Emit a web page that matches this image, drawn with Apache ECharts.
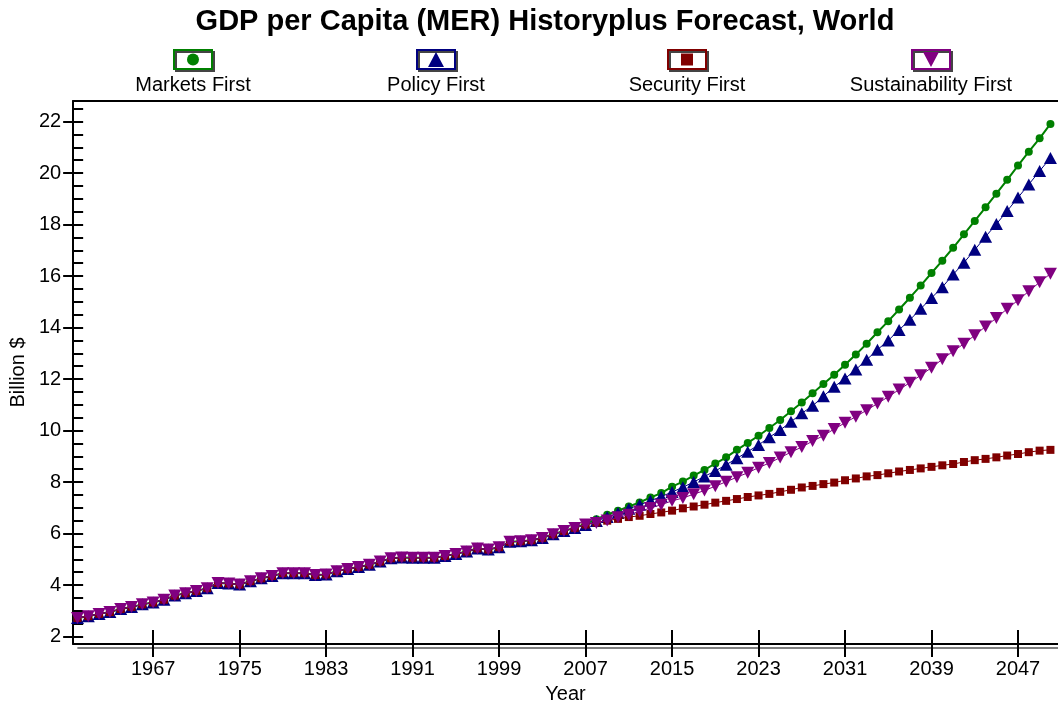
<!DOCTYPE html>
<html>
<head>
<meta charset="utf-8">
<script src="https://cdn.jsdelivr.net/npm/echarts@6/dist/echarts.min.js"></script>
<style>
  html, body { margin: 0; padding: 0; background: #fff; }
  #chart { width: 1058px; height: 709px; }
</style>
</head>
<body>
<div id="chart"></div>
<script>
// ---- data ----
const titleText = 'GDP per Capita (MER) Historyplus Forecast, World';
const seriesNames = ['Markets First', 'Policy First', 'Security First', 'Sustainability First'];
const historyYears = [1960, 2006];   // first and last historical year
const forecastYears = [2007, 2050];  // first and last forecast year

// shared history 1960..2006
const history = [2.72,2.79,2.88,2.95,3.07,3.15,3.25,3.32,3.43,3.59,
                 3.68,3.77,3.88,4.08,4.06,4.02,4.15,4.26,4.35,4.46,
                 4.46,4.46,4.39,4.41,4.54,4.62,4.70,4.79,4.91,5.04,
                 5.07,5.06,5.06,5.06,5.13,5.21,5.30,5.42,5.38,5.47,
                 5.68,5.70,5.74,5.83,5.97,6.10,6.22];

// forecasts 2007..2050
const marketsFirst = [6.38,6.56,6.73,6.89,7.05,7.21,7.40,7.57,7.82,8.02,
                      8.25,8.47,8.72,8.96,9.25,9.52,9.80,10.10,10.41,10.75,
                      11.09,11.45,11.81,12.17,12.56,12.95,13.37,13.82,14.25,14.70,
                      15.16,15.63,16.12,16.60,17.10,17.62,18.14,18.67,19.20,19.74,
                      20.29,20.83,21.35,21.91];
const policyFirst = [6.33,6.49,6.64,6.80,6.96,7.12,7.27,7.44,7.61,7.80,
                     8.00,8.22,8.43,8.67,8.92,9.18,9.44,9.74,10.02,10.34,
                     10.67,10.96,11.33,11.70,12.02,12.37,12.75,13.14,13.50,13.91,
                     14.30,14.73,15.15,15.57,16.06,16.52,17.02,17.53,18.02,18.53,
                     19.05,19.56,20.08,20.59];
const securityFirst = [6.35,6.43,6.50,6.57,6.64,6.69,6.76,6.82,6.89,6.98,
                       7.05,7.12,7.20,7.27,7.34,7.42,7.48,7.54,7.62,7.70,
                       7.79,7.85,7.92,7.98,8.07,8.14,8.22,8.27,8.34,8.41,
                       8.47,8.53,8.59,8.65,8.70,8.78,8.85,8.90,8.96,9.03,
                       9.09,9.16,9.22,9.25];
const sustainabilityFirst = [6.35,6.41,6.51,6.63,6.73,6.86,6.99,7.12,7.27,7.38,
                             7.53,7.67,7.84,8.01,8.19,8.36,8.56,8.74,8.95,9.16,
                             9.36,9.59,9.80,10.06,10.30,10.54,10.79,11.05,11.31,11.59,
                             11.86,12.15,12.44,12.77,13.08,13.37,13.70,14.04,14.37,14.73,
                             15.06,15.41,15.76,16.09];

// tick labels
const xTickYears = [1967, 1975, 1983, 1991, 1999, 2007, 2015, 2023, 2031, 2039, 2047];
const yTickLabels = [2, 4, 6, 8, 10, 12, 14, 16, 18, 20, 22];
const yMinorTicks = [2,2.5,3,3.5,4,4.5,5,5.5,6,6.5,7,7.5,8,8.5,9,9.5,10,10.5,11,11.5,
                     12,12.5,13,13.5,14,14.5,15,15.5,16,16.5,17,17.5,18,18.5,19,19.5,
                     20,20.5,21,21.5,22,22.5];

// ---- build ----
const FONT = '"Liberation Sans", Arial, sans-serif';
const colors = ['#008000', '#000080', '#800000', '#800080'];
const forecasts = [marketsFirst, policyFirst, securityFirst, sustainabilityFirst];

function buildSeriesData(fc) {
  const out = [];
  for (let i = 0; i < history.length; i++) out.push([historyYears[0] + i, history[i]]);
  for (let i = 0; i < fc.length; i++) out.push([forecastYears[0] + i, fc[i]]);
  return out;
}

const symbolDefs = [
  { symbol: 'circle', size: 8, rotate: 0, lw: 2 },
  { symbol: 'triangle', size: [13, 12], rotate: 0, lw: 1 },
  { symbol: 'rect', size: 8, rotate: 0, lw: 1 },
  { symbol: 'triangle', size: [13, 12], rotate: 180, lw: 1 }
];

const series = seriesNames.map((name, i) => ({
  name: name,
  type: 'line',
  data: buildSeriesData(forecasts[i]),
  symbol: symbolDefs[i].symbol,
  symbolSize: symbolDefs[i].size,
  symbolRotate: symbolDefs[i].rotate,
  showAllSymbol: true,
  xAxisIndex: 0,
  yAxisIndex: 0,
  color: colors[i],
  lineStyle: { color: colors[i], width: symbolDefs[i].lw },
  itemStyle: { color: colors[i], borderWidth: 0 },
  emphasis: { disabled: true },
  z: 2 + i
}));

// legend drawn as graphic (icon box above label)
const legendCenters = [193, 436, 687, 931];
const legendGraphics = [];
seriesNames.forEach((name, i) => {
  const cx = legendCenters[i];
  const c = colors[i];
  const children = [
    { type: 'rect', shape: { x: -19, y: 50, width: 38, height: 19 },
      style: { fill: '#fff', stroke: c, lineWidth: 2, shadowColor: '#444', shadowOffsetX: 2, shadowOffsetY: 2, shadowBlur: 0 } }
  ];
  if (i === 0) children.push({ type: 'circle', shape: { cx: 0, cy: 59.5, r: 6 }, style: { fill: c } });
  if (i === 1) children.push({ type: 'polygon', shape: { points: [[0, 52], [-8, 67], [8, 67]] }, style: { fill: c } });
  if (i === 2) children.push({ type: 'rect', shape: { x: -6, y: 53.5, width: 12, height: 12 }, style: { fill: c } });
  if (i === 3) children.push({ type: 'polygon', shape: { points: [[-8, 52], [8, 52], [0, 67]] }, style: { fill: c } });
  children.push({ type: 'text', x: 0, y: 75,
    style: { text: name, font: '20px ' + FONT, fill: '#000', textAlign: 'center', textVerticalAlign: 'top' } });
  legendGraphics.push({ type: 'group', x: cx, y: 0, children: children });
});

const chart = echarts.init(document.getElementById('chart'), null, { renderer: 'canvas' });
chart.setOption({
  animation: false,
  backgroundColor: '#fff',
  title: {
    text: titleText,
    left: 540,
    textAlign: 'center',
    top: 2,
    textStyle: { fontFamily: FONT, fontSize: 29, fontWeight: 'bold', color: '#000' }
  },
  grid: { left: 72, right: 0, top: 101, bottom: 62, containLabel: false },
  xAxis: [
    {
      type: 'value', position: 'bottom', min: 1959.6, max: 2050.7,
      name: 'Year', nameLocation: 'middle', nameGap: 40,
      nameTextStyle: { fontFamily: FONT, fontSize: 20, color: '#000' },
      axisLine: { show: true, onZero: false, lineStyle: { color: '#000', width: 2, shadowColor: '#808080', shadowOffsetX: 5, shadowOffsetY: 4, shadowBlur: 0 } },
      axisTick: { show: true, customValues: xTickYears, length: 13, inside: false, lineStyle: { color: '#000', width: 2 } },
      axisLabel: { show: true, customValues: xTickYears, formatter: v => String(v), margin: 15, fontFamily: FONT, fontSize: 20, color: '#000' },
      splitLine: { show: false }
    },
    {
      type: 'value', position: 'bottom', min: 1959.6, max: 2050.7,
      axisLine: { show: false, onZero: false },
      axisTick: { show: true, customValues: xTickYears, length: 14, inside: true, lineStyle: { color: '#000', width: 2 } },
      axisLabel: { show: false },
      splitLine: { show: false }
    },
    {
      type: 'value', position: 'top', min: 1959.6, max: 2050.7,
      axisLine: { show: true, onZero: false, lineStyle: { color: '#000', width: 2 } },
      axisTick: { show: false },
      axisLabel: { show: false },
      splitLine: { show: false }
    }
  ],
  yAxis: [
    {
      type: 'value', position: 'left', min: 1.71, max: 22.8,
      name: 'Billion $', nameLocation: 'middle', nameGap: 44, nameRotate: 90,
      nameTextStyle: { fontFamily: FONT, fontSize: 20, color: '#000' },
      axisLine: { show: true, onZero: false, lineStyle: { color: '#000', width: 2 } },
      axisTick: { show: true, customValues: yTickLabels, length: 10, inside: false, lineStyle: { color: '#000', width: 2 } },
      axisLabel: { show: true, customValues: yTickLabels, formatter: v => String(v), margin: 12, fontFamily: FONT, fontSize: 20, color: '#000' },
      splitLine: { show: false }
    },
    {
      type: 'value', position: 'left', min: 1.71, max: 22.8,
      axisLine: { show: false, onZero: false },
      axisTick: { show: true, customValues: yMinorTicks, length: 10, inside: true, lineStyle: { color: '#000', width: 2 } },
      axisLabel: { show: false },
      splitLine: { show: false }
    }
  ],
  series: series,
  graphic: legendGraphics
});
</script>
</body>
</html>
